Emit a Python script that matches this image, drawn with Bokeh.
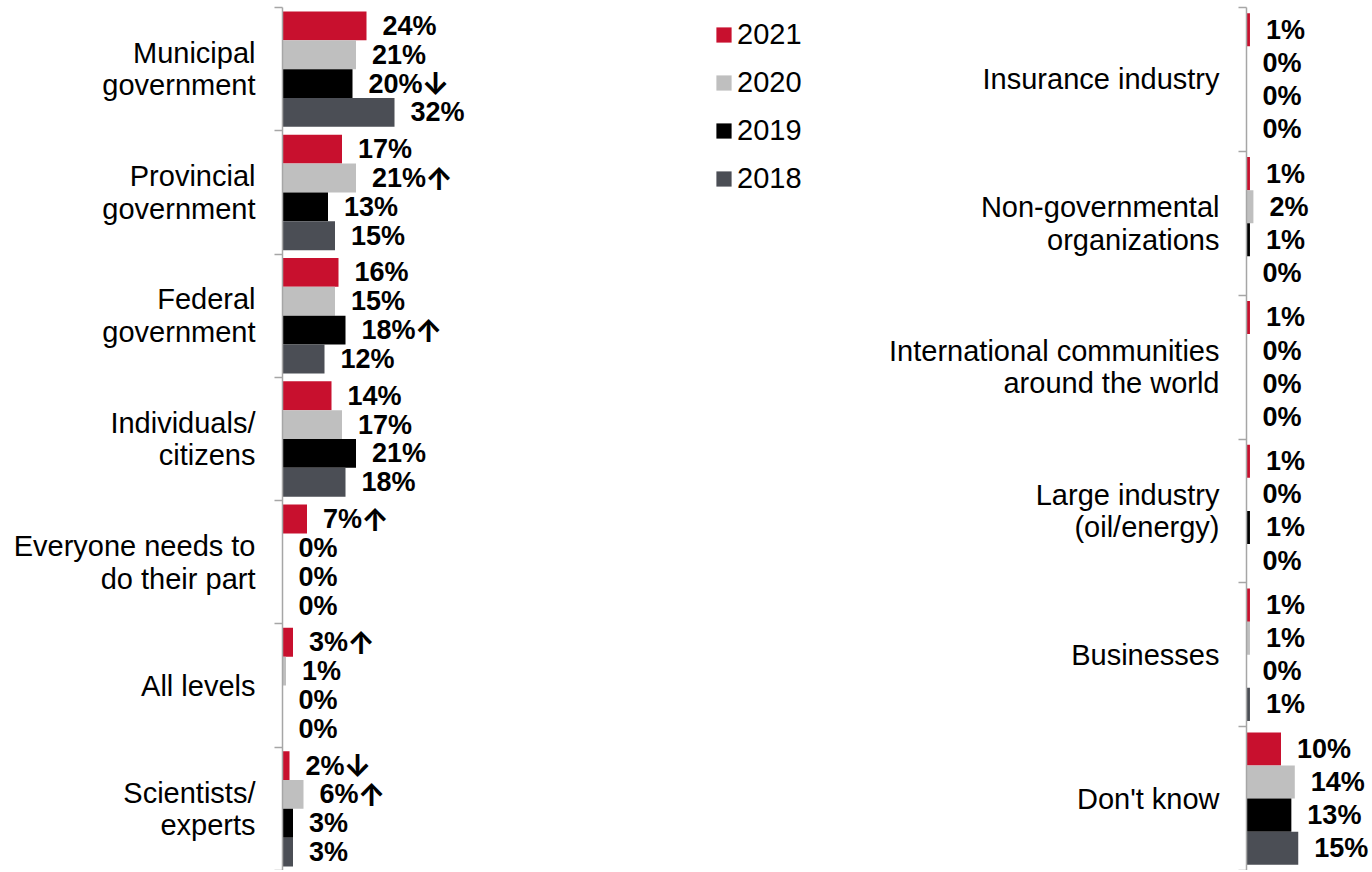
from bokeh.plotting import figure
from bokeh.models import (ColumnDataSource, Range1d, LinearAxis, FixedTicker,
                          Legend, LegendItem)
from bokeh.layouts import row
from bokeh.core.properties import value
from bokeh.embed import file_html
from bokeh.resources import INLINE

# ---------------- data ----------------
years = ["2021", "2020", "2019", "2018"]
colors = ["#C8102E", "#BFBFBF", "#000000", "#4B4E55"]

left_categories = [
    "Municipal\ngovernment",
    "Provincial\ngovernment",
    "Federal\ngovernment",
    "Individuals/\ncitizens",
    "Everyone needs to\ndo their part",
    "All levels",
    "Scientists/\nexperts",
]
left_2021 = [24, 17, 16, 14, 7, 3, 2]
left_2020 = [21, 21, 15, 17, 0, 1, 6]
left_2019 = [20, 13, 18, 21, 0, 0, 3]
left_2018 = [32, 15, 12, 18, 0, 0, 3]
left_arrows_2021 = ["", "", "", "", "\u2191", "\u2191", "\u2193"]
left_arrows_2020 = ["", "\u2191", "", "", "", "", "\u2191"]
left_arrows_2019 = ["\u2193", "", "\u2191", "", "", "", ""]
left_arrows_2018 = ["", "", "", "", "", "", ""]

right_categories = [
    "Insurance industry",
    "Non-governmental\norganizations",
    "International communities\naround the world",
    "Large industry\n(oil/energy)",
    "Businesses",
    "Don't know",
]
right_2021 = [1, 1, 1, 1, 1, 10]
right_2020 = [0, 2, 0, 0, 1, 14]
right_2019 = [0, 1, 0, 1, 0, 13]
right_2018 = [0, 0, 0, 0, 1, 15]
right_arrows = [""] * 6

FONT = "Liberation Sans"
ARROW_FONT = "Inter"
AXIS_COLOR = "#A6A6A6"
HEIGHT = 870
TOP = 7
LABEL_PX = 27
LABEL_GAP = 16


def label_width(txt):
    # approximate advance width of a bold Arial-metric label, in px
    w = 0.0
    for ch in txt:
        w += 0.889 if ch == "%" else 0.556
    return w * LABEL_PX


def panel(categories, series, arrows, width, border_left, px_per_unit, pad, bar_h):
    n = len(categories)
    frame_w = width - border_left
    p = figure(width=width, height=HEIGHT, output_backend="svg", toolbar_location=None,
               x_range=Range1d(0, frame_w / px_per_unit), y_range=Range1d(n, 0),
               x_axis_location=None, y_axis_location=None,
               min_border_left=border_left, min_border_right=0,
               min_border_top=TOP, min_border_bottom=0)
    p.outline_line_color = None
    p.background_fill_color = "white"
    p.grid.visible = False
    renderers = []
    for j, (vals, arr) in enumerate(zip(series, arrows)):
        ys = [i + pad + (j + 0.5) * bar_h for i in range(n)]
        labels = [f"{v}%" for v in vals]
        src = ColumnDataSource(dict(y=ys, v=vals, label=labels))
        r = p.hbar(y="y", left=0, right="v", height=bar_h, source=src,
                   fill_color=colors[j], line_color=None)
        p.text(x="v", y="y", text="label", source=src, x_offset=LABEL_GAP,
               text_align="left", text_baseline="middle",
               text_font=value(FONT), text_font_style="bold",
               text_font_size=f"{LABEL_PX}px", text_color="#000000")
        idx = [i for i, a in enumerate(arr) if a]
        if idx:
            asrc = ColumnDataSource(dict(
                y=[ys[i] for i in idx], v=[vals[i] for i in idx],
                a=[arr[i] for i in idx],
                off=[LABEL_GAP + label_width(labels[i]) - 1 for i in idx]))
            p.text(x="v", y="y", text="a", source=asrc, x_offset="off",
                   text_align="left", text_baseline="middle",
                   text_font=value(ARROW_FONT), text_font_style="bold",
                   text_font_size="31px", text_color="#000000")
        renderers.append(r)
    axis = LinearAxis(
        ticker=FixedTicker(ticks=[i + 0.5 for i in range(n)],
                           minor_ticks=list(range(n + 1))),
        major_label_overrides={i + 0.5: c for i, c in enumerate(categories)},
        axis_line_color=AXIS_COLOR, axis_line_width=1.5,
        major_tick_line_color=None, major_tick_out=0, major_tick_in=0,
        minor_tick_line_color=AXIS_COLOR, minor_tick_line_width=1.5,
        minor_tick_out=8, minor_tick_in=0,
        major_label_standoff=19,
        major_label_text_font=FONT, major_label_text_font_size="29px",
        major_label_text_line_height=1.02,
        major_label_text_color="#000000",
    )
    p.add_layout(axis, "left")
    return p, renderers


left, left_r = panel(left_categories,
                     [left_2021, left_2020, left_2019, left_2018],
                     [left_arrows_2021, left_arrows_2020, left_arrows_2019, left_arrows_2018],
                     width=880, border_left=282, px_per_unit=3.5, pad=0.032, bar_h=0.234)

right, _ = panel(right_categories,
                 [right_2021, right_2020, right_2019, right_2018],
                 [right_arrows] * 4,
                 width=492, border_left=366, px_per_unit=3.45, pad=0.04, bar_h=0.23)

frame_h = HEIGHT - TOP
legend = Legend(
    items=[LegendItem(label=y, renderers=[r]) for y, r in zip(years, left_r)],
    location=(432, frame_h - 188), orientation="vertical",
    glyph_width=19, glyph_height=19, label_standoff=4, spacing=15,
    padding=0, margin=0, border_line_color=None, background_fill_alpha=0,
    label_text_font=FONT, label_text_font_size="29px", label_text_color="#000000",
)
left.add_layout(legend)

layout = row(left, right)
open("out.html", "w").write(file_html(layout, INLINE))
